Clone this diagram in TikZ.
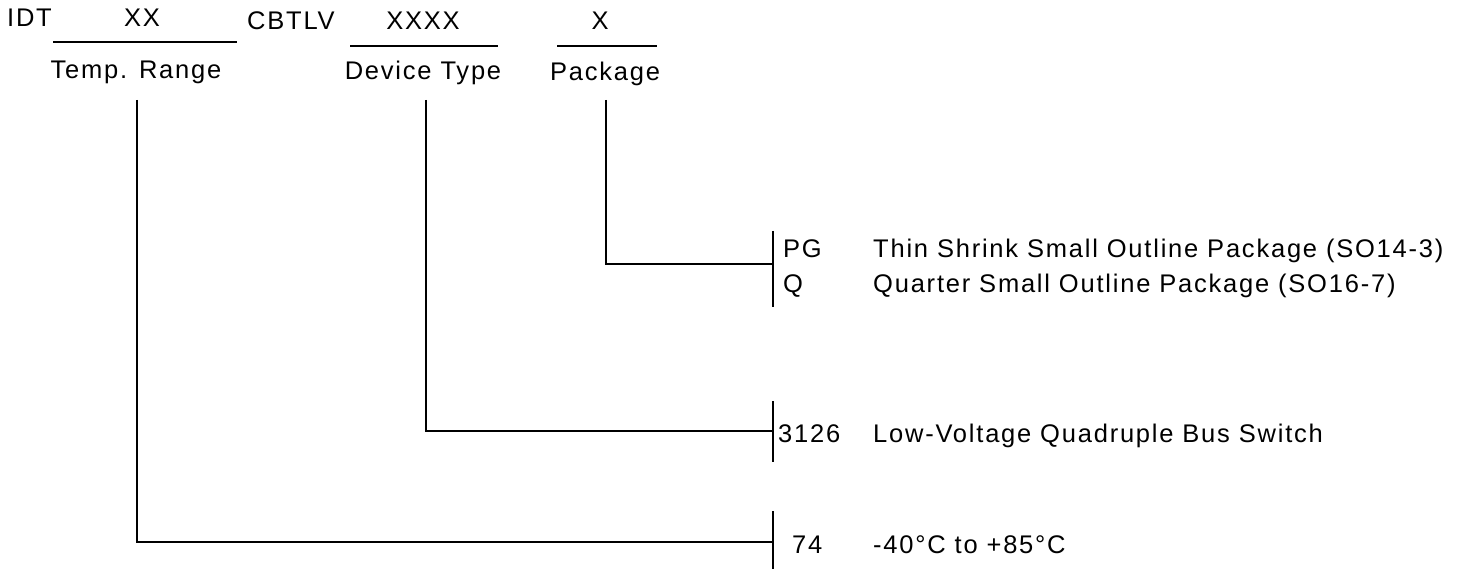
\documentclass[tikz,border=0pt]{standalone}
\usepackage{fontspec}
\setmainfont{Liberation Sans}[LetterSpace=7]
\begin{document}
\begin{tikzpicture}[x=1pt,y=-1pt,
  txt/.style={inner sep=0pt, font=\fontsize{25.5}{30}\selectfont},
  uline/.style={line width=2.6pt},
  conn/.style={line width=1.8pt},
  brk/.style={line width=2.6pt}]
\useasboundingbox (0,0) rectangle (1461,569);
% top row
\node[txt,anchor=base west] (idt) at (7,27) {IDT};
\node[txt,anchor=base] (xx) at (142,27) {XX};
\node[txt,anchor=base west] (cbtlv) at (247,30) {CBTLV};
\node[txt,anchor=base] (xxxx) at (423,30) {XXXX};
\node[txt,anchor=base] (xone) at (600,30) {X};
% underlines
\coordinate (u1a) at (53,42);  \coordinate (u1b) at (237,42);
\coordinate (u2a) at (350,46); \coordinate (u2b) at (498,46);
\coordinate (u3a) at (557,46); \coordinate (u3b) at (657,46);
\draw[uline] (u1a) -- (u1b);
\draw[uline] (u2a) -- (u2b);
\draw[uline] (u3a) -- (u3b);
% field labels
\node[txt,anchor=base] (temp) at (136,79) {Temp. Range};
\node[txt,anchor=base] (dev) at (423,80) {Device Type};
\node[txt,anchor=base] (pkg) at (605,81) {Package};
% connector tops
\coordinate (ttop) at (137,100);
\coordinate (dtop) at (426,100);
\coordinate (ptop) at (606,100);
% brackets
\coordinate (pb1) at (773,231); \coordinate (pb2) at (773,307); \coordinate (pj) at (773,264);
\coordinate (db1) at (773,401); \coordinate (db2) at (773,462); \coordinate (dj) at (773,431);
\coordinate (tb1) at (773,511); \coordinate (tb2) at (773,569); \coordinate (tj) at (773,542);
\draw[brk] (pb1) -- (pb2);
\draw[brk] (db1) -- (db2);
\draw[brk] (tb1) -- (tb2);
\draw[conn] (ptop) |- (pj);
\draw[conn] (dtop) |- (dj);
\draw[conn] (ttop) |- (tj);
% codes and descriptions
\node[txt,anchor=base west] (pg) at (783,258) {PG};
\node[txt,anchor=base west] (pgd) at (873,258) {Thin Shrink Small Outline Package (SO14-3)};
\node[txt,anchor=base west] (q) at (783,292) {Q};
\node[txt,anchor=base west] (qd) at (873,292) {Quarter Small Outline Package (SO16-7)};
\node[txt,anchor=base west] (c3126) at (778,442) {3126};
\node[txt,anchor=base west] (c3126d) at (873,442) {Low-Voltage Quadruple Bus Switch};
\node[txt,anchor=base west] (c74) at (792,553) {74};
\node[txt,anchor=base west] (c74d) at (873,553) {-40°C to +85°C};
\end{tikzpicture}
\end{document}
